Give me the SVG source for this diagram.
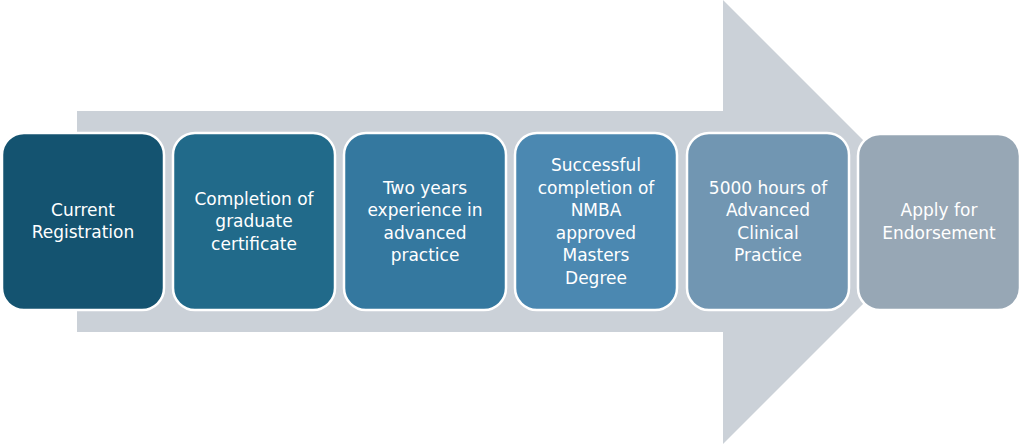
<svg xmlns="http://www.w3.org/2000/svg" width="1024" height="444" viewBox="0 0 1024 444">
<style>
.box{stroke:#ffffff;stroke-width:2.5}
.t{font-family:"DejaVu Sans",sans-serif;font-size:17px;fill:#ffffff;text-anchor:middle}
</style>
<rect width="1024" height="444" fill="#ffffff"/>
<g id="arrow">
<polygon points="77,111 723,111 723,0 945,222 723,444 723,332 77,332" fill="#cbd1d8"/>
</g>
<g id="connectors"></g>
<g id="n1">
<rect class="box" x="2" y="133" width="162" height="177" rx="22" fill="#145370"/>
<text class="t" x="83" y="215.5">Current</text>
<text class="t" x="83" y="238">Registration</text>
</g>
<g id="n2">
<rect class="box" x="173" y="133" width="162" height="177" rx="22" fill="#216a8a"/>
<text class="t" x="254" y="204.5">Completion of</text>
<text class="t" x="254" y="227">graduate</text>
<text class="t" x="254" y="249.5">certificate</text>
</g>
<g id="n3">
<rect class="box" x="344" y="133" width="162" height="177" rx="22" fill="#34789f"/>
<text class="t" x="425" y="193.5">Two years</text>
<text class="t" x="425" y="216">experience in</text>
<text class="t" x="425" y="238.5">advanced</text>
<text class="t" x="425" y="261">practice</text>
</g>
<g id="n4">
<rect class="box" x="515" y="133" width="162" height="177" rx="22" fill="#4b88b1"/>
<text class="t" x="596" y="171">Successful</text>
<text class="t" x="596" y="193.5">completion of</text>
<text class="t" x="596" y="216">NMBA</text>
<text class="t" x="596" y="238.5">approved</text>
<text class="t" x="596" y="261">Masters</text>
<text class="t" x="596" y="283.5">Degree</text>
</g>
<g id="n5">
<rect class="box" x="687" y="133" width="162" height="177" rx="22" fill="#7196b2"/>
<text class="t" x="768" y="193.5">5000 hours of</text>
<text class="t" x="768" y="216">Advanced</text>
<text class="t" x="768" y="238.5">Clinical</text>
<text class="t" x="768" y="261">Practice</text>
</g>
<g id="n6">
<rect class="box" x="858" y="134" width="162" height="176" rx="22" fill="#97a7b5"/>
<text class="t" x="939" y="216">Apply for</text>
<text class="t" x="939" y="238.5">Endorsement</text>
</g>
</svg>
